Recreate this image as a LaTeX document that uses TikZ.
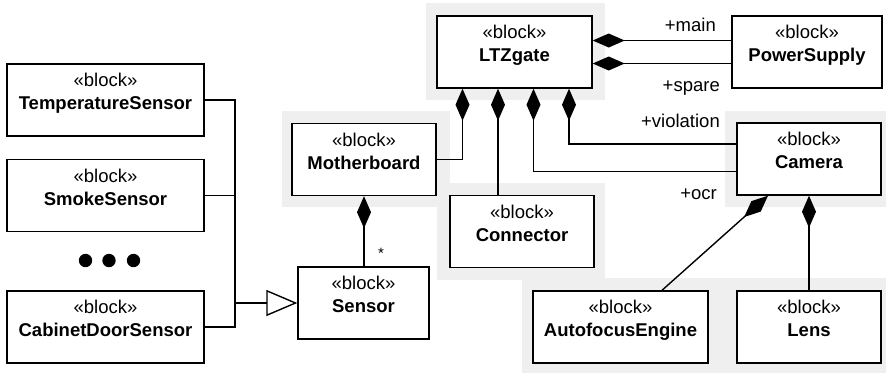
\documentclass[tikz,border=0pt]{standalone}
\usepackage{fontspec}
\setmainfont{Liberation Sans}
\usetikzlibrary{arrows.meta}
\definecolor{bggray}{RGB}{239,239,239}
\tikzset{
  blk/.style={draw, line width=1.4pt, fill=white, inner sep=0pt, minimum height=72pt},
  blktext/.style={anchor=north, align=center, inner sep=0pt, font=\fontsize{18.5}{23}\selectfont, yshift=-10pt},
  lbl/.style={inner sep=0pt, font=\fontsize{18.5}{22}\selectfont},
  comp/.style={line width=1.4pt, {Diamond[length=32pt,width=14pt]}-},
  gen/.style={line width=1.4pt, -{Triangle[open,length=31pt,width=26pt,fill=white]}},
  plain/.style={line width=1.4pt},
  bg/.style={fill=bggray, draw=none},
  dot/.style={circle, fill=black, inner sep=0pt, minimum size=13.4pt}
}
\begin{document}
\begin{tikzpicture}[x=1pt,y=-1pt]
\useasboundingbox (0,0) rectangle (886,373);
% grey backgrounds
\fill[bg] (426,3) rectangle (605,100);
\fill[bg] (725,111) rectangle (886,207);
\fill[bg] (282,111) rectangle (450,207);
\fill[bg] (437,183) rectangle (605,280);
\fill[bg] (522,278) rectangle (886,373);
% blocks
\node[blk, minimum width=155pt] (ltz) at (514.5,52) {};
\node[blktext] (ltzt) at (ltz.north) {«block»\\\textbf{LTZgate}};
\node[blk, minimum width=150pt] (ps) at (807,52) {};
\node[blktext] (pst) at (ps.north) {«block»\\\textbf{PowerSupply}};
\node[blk, minimum width=144pt] (cam) at (809,159) {};
\node[blktext] (camt) at (cam.north) {«block»\\\textbf{Camera}};
\node[blk, minimum width=144pt] (mb) at (364,159.5) {};
\node[blktext] (mbt) at (mb.north) {«block»\\\textbf{Motherboard}};
\node[blk, minimum width=144pt] (conn) at (522,231.5) {};
\node[blktext] (connt) at (conn.north) {«block»\\\textbf{Connector}};
\node[blk, minimum width=131pt] (sen) at (363.5,303) {};
\node[blktext] (sent) at (sen.north) {«block»\\\textbf{Sensor}};
\node[blk, minimum width=175pt] (af) at (620.5,327) {};
\node[blktext] (aft) at (af.north) {«block»\\\textbf{AutofocusEngine}};
\node[blk, minimum width=144pt] (lens) at (809,327) {};
\node[blktext] (lenst) at (lens.north) {«block»\\\textbf{Lens}};
\node[blk, minimum width=197pt] (temp) at (105.5,100) {};
\node[blktext] (tempt) at (temp.north) {«block»\\\textbf{TemperatureSensor}};
\node[blk, minimum width=197pt] (smoke) at (105.5,195.5) {};
\node[blktext] (smoket) at (smoke.north) {«block»\\\textbf{SmokeSensor}};
\node[blk, minimum width=197pt] (cab) at (105.5,327) {};
\node[blktext] (cabt) at (cab.north) {«block»\\\textbf{CabinetDoorSensor}};
% dots
\node[dot] (d1) at (85.5,260.5) {};
\node[dot] (d2) at (109,260.5) {};
\node[dot] (d3) at (133.5,260.5) {};
% generalization
\coordinate (jn) at (235,303);
\draw[plain] (temp.east) -| (jn);
\draw[plain] (smoke.east) -| (jn);
\draw[plain] (cab.east) -| (jn);
\draw[gen] (jn) -- (sen.west);
% compositions
\draw[comp] ([yshift=11.5pt]ltz.east) -- ([yshift=11.5pt]ltz.east -| ps.west);
\draw[comp] ([yshift=-11.5pt]ltz.east) -- ([yshift=-11.5pt]ltz.east -| ps.west);
\draw[comp] ([xshift=-52pt]ltz.south) |- (mb.east);
\draw[comp] ([xshift=-16.5pt]ltz.south) -- ([xshift=-16.5pt]ltz.south |- conn.north);
\draw[comp] ([xshift=19pt]ltz.south) |- ([yshift=-12.5pt]cam.west);
\draw[comp] ([xshift=54.5pt]ltz.south) |- ([yshift=15pt]cam.west);
\draw[comp] (mb.south) -- (mb.south |- sen.north);
\draw[comp] ([xshift=-41pt]cam.south) -- ([xshift=41.5pt]af.north);
\draw[comp] (cam.south) -- (lens.north);
% role labels
\node[lbl, anchor=base east] (lmain) at (716,31) {+main};
\node[lbl, anchor=base east] (lspare) at (720,91) {+spare};
\node[lbl, anchor=base east] (lviol) at (720,127) {+violation};
\node[lbl, anchor=base east] (locr) at (717,199) {+ocr};
\node[lbl, font=\fontsize{15}{16}\selectfont] (lstar) at (381,253) {*};
\end{tikzpicture}
\end{document}
